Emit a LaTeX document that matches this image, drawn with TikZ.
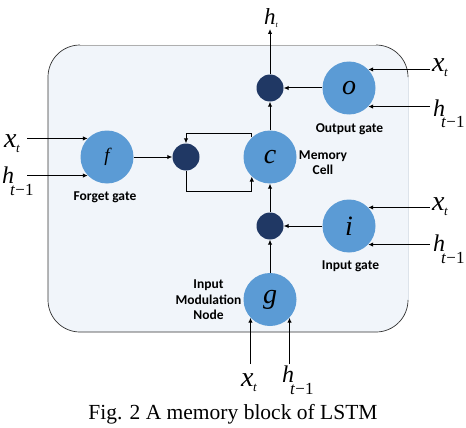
\documentclass[tikz,border=0pt]{standalone}
\usepackage{fontspec}
\setmainfont{Liberation Serif}
\newfontfamily\lblfont{Carlito}
\usetikzlibrary{arrows.meta}
\definecolor{gateblue}{RGB}{91,155,213}
\definecolor{darkdot}{RGB}{32,56,100}
\definecolor{boxfill}{RGB}{241,245,250}
\definecolor{topline}{RGB}{175,175,175}
\definecolor{sideline}{RGB}{221,227,234}
\definecolor{edgeline}{RGB}{50,50,50}
\newcommand\LabX{{\fontsize{28}{28}\selectfont\itshape x}\kern-0.5pt\raisebox{-5pt}{\fontsize{13}{13}\selectfont\itshape t}}
\newcommand\LabH{{\fontsize{24}{24}\selectfont\itshape h}\kern-4pt\raisebox{-12pt}{\fontsize{17}{17}\selectfont\itshape t\upshape\kern0.5pt−1}}
\tikzset{
  gate/.style={circle, fill=gateblue, minimum size=53pt, inner sep=0pt, font=\fontsize{28}{28}\selectfont\itshape},
  dot/.style={circle, fill=darkdot, minimum size=27pt, inner sep=0pt},
  arr/.style={-{Latex[length=5pt,width=4.5pt]}, line width=1pt},
  note/.style={font=\lblfont\bfseries\fontsize{13.5}{15.5}\selectfont, align=center, inner sep=0pt},
  lbl/.style={inner sep=0pt, anchor=base west}
}
\begin{document}
\begin{tikzpicture}[x=1pt,y=-1pt]
\useasboundingbox (0,0) rectangle (466,428);
% block
\fill[boxfill, rounded corners=32] (48,45) rectangle (408,332);
\draw[topline, line width=0.8pt] (80,45) -- (376,45);
\draw[sideline, line width=0.8pt] (408,77) -- (408,300);
\draw[edgeline, line width=0.7pt, rounded corners=32] (80,45) -- (48,45) -- (48,332) -- (408,332) -- (408,300);
\draw[edgeline, line width=0.7pt, rounded corners=32] (376,45) -- (408,45) -- (408,77);
% nodes
\node[gate, font=\fontsize{19}{19}\selectfont\itshape] (f) at (107,157) {f};
\node[dot] (md) at (186,157) {};
\node[gate] (c) at (270,157) {c};
\node[dot] (td) at (270,88) {};
\node[gate] (o) at (349,88) {o};
\node[dot] (bd) at (270,226) {};
\node[gate] (i) at (349,226) {i};
\node[gate] (g) at (270,299.5) {g};
% labels
\node[note] (fl) at (105,197) {Forget gate};
\node[note] (ol) at (349.5,129) {Output gate};
\node[note] (il) at (350.5,266.5) {Input gate};
\node[note] (cl) at (323,162.5) {Memory\\Cell};
\node[note] (gl) at (208.5,300) {Input\\Modulation\\Node};
% text labels
\node[lbl] (ht) at (264,25) {{\fontsize{23}{23}\selectfont\itshape h}\raisebox{-3pt}{\fontsize{8}{8}\selectfont\itshape t}};
\node[lbl] (xf) at (4,147) {\LabX};
\node[lbl] (hf) at (2,183) {\LabH};
\node[lbl] (xo) at (432,72) {\LabX};
\node[lbl] (ho) at (433,116) {\LabH};
\node[lbl] (xi) at (432,210) {\LabX};
\node[lbl] (hi) at (433,251) {\LabH};
\node[lbl] (xg) at (241,386) {\LabX};
\node[lbl] (hg) at (282,382) {\LabH};
\node[anchor=center, inner sep=0pt, font=\fontsize{21.5}{21.5}\selectfont] (cap) at (233,414) {Fig. 2 A memory block of LSTM};
% coordinates
\coordinate (htop) at (270,29);
\coordinate (lt) at (186,133);
\coordinate (lb) at (186,191);
\coordinate (sxf) at (27,0 |- f.136);
\coordinate (shf) at (27,0 |- f.224);
\coordinate (sxo) at (430,0 |- o.44);
\coordinate (sho) at (430,0 |- o.-44);
\coordinate (sxi) at (430,0 |- i.44);
\coordinate (shi) at (430,0 |- i.-44);
\coordinate (sxg) at (g.223 |- 0,364);
\coordinate (shg) at (g.317 |- 0,364);
% connectors
\draw[arr] (sxf) -- (f.136);
\draw[arr] (shf) -- (f.224);
\draw[arr] (f.east) -- (md.west);
\draw[arr] (c.133) |- (lt) -- (md.north);
\draw[arr] (md.south) -- (lb) -| (c.227);
\draw[arr] (c.north) -- (td.south);
\draw[arr] (td.north) -- (htop);
\draw[arr] (o.west) -- (td.east);
\draw[arr] (sxo) -- (o.44);
\draw[arr] (sho) -- (o.-44);
\draw[arr] (i.west) -- (bd.east);
\draw[arr] (sxi) -- (i.44);
\draw[arr] (shi) -- (i.-44);
\draw[arr] (bd.north) -- (c.south);
\draw[arr] (g.north) -- (bd.south);
\draw[arr] (sxg) -- (g.223);
\draw[arr] (shg) -- (g.317);
\end{tikzpicture}
\end{document}
